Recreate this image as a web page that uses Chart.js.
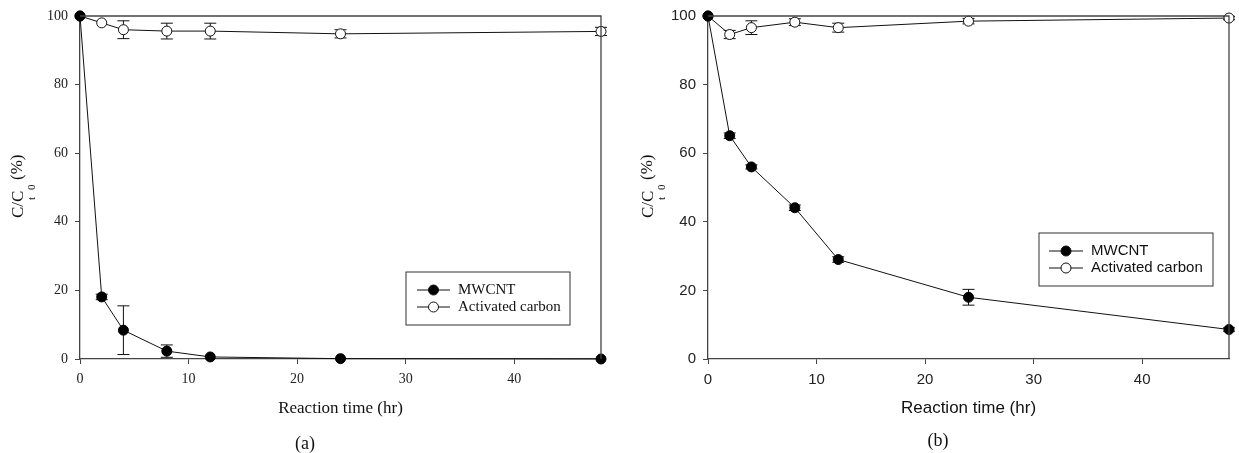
<!DOCTYPE html>
<html>
<head>
<meta charset="utf-8">
<script src="https://cdn.jsdelivr.net/npm/chart.js@4.4.0/dist/chart.umd.min.js"></script>
<style>
    body { margin: 0; background: #fff; }
    #wrap { position: relative; width: 1239px; height: 453px; }
    canvas { position: absolute; top: 0; }
</style>
</head>
<body>
<div id="wrap">
    <canvas id="grafico-a" width="620" height="453" style="left:0"></canvas>
    <canvas id="grafico-b" width="619" height="453" style="left:620px"></canvas>
</div>
<script>
// --- Data ---
const tempo = [0, 2, 4, 8, 12, 24, 48];
const xTicks = [0, 10, 20, 30, 40];
const yTicks = [0, 20, 40, 60, 80, 100];
const nomes = ['MWCNT', 'Activated carbon'];

// panel (a)
const mwcntA = [100, 18.1, 8.4, 2.3, 0.6, 0.1, 0];
const mwcntErrA = [0, 0.8, 7.1, 1.8, 0, 0, 0];
const carvaoA = [100, 98.0, 96.0, 95.6, 95.6, 94.8, 95.5];
const carvaoErrA = [0, 0, 2.6, 2.3, 2.3, 1.2, 1.2];

// panel (b)
const mwcntB = [100, 65.1, 56.0, 44.1, 29.0, 18.0, 8.6];
const mwcntErrB = [0, 0.8, 0.6, 0.8, 0.8, 2.3, 0.5];
const carvaoB = [100, 94.6, 96.6, 98.2, 96.6, 98.5, 99.4];
const carvaoErrB = [0, 1.2, 2.0, 1.0, 1.3, 0.8, 0.5];

const SERIF = '"Liberation Serif", "DejaVu Serif", serif';
const SANS = '"Liberation Sans", Arial, sans-serif';

// --- Helpers ---
function pontos(ys) {
    return tempo.map((t, i) => ({ x: t, y: ys[i] }));
}

function desenharTituloY(ctx, x, yBase) {
    ctx.save();
    ctx.translate(x, yBase);
    ctx.rotate(-Math.PI / 2);
    ctx.fillStyle = '#111';
    ctx.textAlign = 'left';
    ctx.textBaseline = 'middle';
    ctx.font = `17px ${SERIF}`;
    ctx.fillText('C/C', 0, 0);
    ctx.fillText('(%)', 38, -1);
    ctx.font = `11px ${SERIF}`;
    ctx.fillText('t', 18, 13);
    ctx.fillText('0', 28, 13);
    ctx.restore();
}

function criarPainel(id, cfg) {
    const ctx = document.getElementById(id).getContext('2d');

    const plugin = {
        id: 'extras' + id,
        beforeDatasetsDraw(chart) {
            // error bars under the markers
            const c = chart.ctx;
            const xs = chart.scales.x, ys = chart.scales.y;
            c.save();
            c.strokeStyle = '#111';
            c.lineWidth = 1;
            [cfg.erroMwcnt, cfg.erroCarvao].forEach((erros, k) => {
                const valores = k === 0 ? cfg.mwcnt : cfg.carvao;
                erros.forEach((e, i) => {
                    if (!e) return;
                    const px = xs.getPixelForValue(tempo[i]);
                    const top = ys.getPixelForValue(valores[i] + e);
                    const bot = ys.getPixelForValue(valores[i] - e);
                    c.beginPath();
                    c.moveTo(px, top); c.lineTo(px, bot);
                    c.moveTo(px - 6, top); c.lineTo(px + 6, top);
                    c.moveTo(px - 6, bot); c.lineTo(px + 6, bot);
                    c.stroke();
                });
            });
            c.restore();
        },
        afterDraw(chart) {
            const c = chart.ctx;
            const a = chart.chartArea;
            c.save();
            // top and right frame
            c.strokeStyle = '#444';
            c.lineWidth = 1.3;
            c.beginPath();
            c.moveTo(a.left, a.top); c.lineTo(a.right, a.top); c.lineTo(a.right, a.bottom);
            c.stroke();

            // legend box
            const L = cfg.legenda;
            c.lineWidth = 1;
            c.strokeStyle = '#333';
            c.strokeRect(L.x, L.y, L.w, L.h);
            c.font = `15px ${cfg.fonte}`;
            c.textBaseline = 'middle';
            c.textAlign = 'left';
            nomes.forEach((nome, k) => {
                const yy = L.linhas[k];
                c.strokeStyle = '#111';
                c.beginPath();
                c.moveTo(L.x1, yy); c.lineTo(L.x2, yy);
                c.stroke();
                c.beginPath();
                c.arc((L.x1 + L.x2) / 2, yy, 5, 0, Math.PI * 2);
                c.fillStyle = k === 0 ? '#000' : '#fff';
                c.fill();
                c.stroke();
                c.fillStyle = '#111';
                c.fillText(nome, L.xt, yy);
            });

            desenharTituloY(c, cfg.tituloY.x, cfg.tituloY.y);

            // caption
            c.font = `18px ${SERIF}`;
            c.textAlign = 'center';
            c.fillStyle = '#111';
            c.fillText(cfg.legendaPainel, cfg.posLegendaPainel.x, cfg.posLegendaPainel.y);
            c.restore();
        }
    };

    const estiloEixo = {
        grid: { display: true, drawOnChartArea: false, drawTicks: true, tickLength: 5, color: '#444' },
        border: { display: true, color: '#444', width: 1.3 },
    };

    return new Chart(ctx, {
        type: 'scatter',
        data: {
            datasets: [
                {
                    label: nomes[0], data: pontos(cfg.mwcnt), showLine: true,
                    borderColor: '#111', borderWidth: 1, pointRadius: 5,
                    pointBackgroundColor: '#000', pointBorderColor: '#000', pointBorderWidth: 1, clip: false
                },
                {
                    label: nomes[1], data: pontos(cfg.carvao), showLine: true,
                    borderColor: '#111', borderWidth: 1, pointRadius: 5,
                    pointBackgroundColor: '#fff', pointBorderColor: '#111', pointBorderWidth: 1, clip: false
                }
            ]
        },
        options: {
            responsive: false,
            animation: false,
            layout: { padding: cfg.padding },
            plugins: { legend: { display: false }, tooltip: { enabled: false } },
            scales: {
                x: {
                    ...estiloEixo,
                    type: 'linear', min: 0, max: 48,
                    afterBuildTicks: s => { s.ticks = xTicks.map(v => ({ value: v })); },
                    afterFit: s => { s.height = cfg.alturaX; },
                    ticks: { color: '#222', font: { family: cfg.fonte, size: cfg.tamTick }, padding: 7, maxRotation: 0 },
                    title: {
                        display: true, text: 'Reaction time (hr)', color: '#111',
                        font: { family: cfg.fonte, size: 17 }, padding: { top: 0, bottom: 34 }
                    }
                },
                y: {
                    ...estiloEixo,
                    type: 'linear', min: 0, max: 100,
                    afterBuildTicks: s => { s.ticks = yTicks.map(v => ({ value: v })); },
                    afterFit: s => { s.width = cfg.larguraY; },
                    ticks: { color: '#222', font: { family: cfg.fonte, size: cfg.tamTick }, padding: 7 }
                }
            }
        },
        plugins: [plugin]
    });
}

// --- Panels ---
criarPainel('grafico-a', {
    mwcnt: mwcntA, erroMwcnt: mwcntErrA, carvao: carvaoA, erroCarvao: carvaoErrA,
    fonte: SERIF, tamTick: 14,
    padding: { top: 16, right: 19, left: 0, bottom: 0 },
    larguraY: 80, alturaX: 94,
    legenda: { x: 406, y: 272, w: 164, h: 53, x1: 417, x2: 450, xt: 458, linhas: [290, 307] },
    tituloY: { x: 19, y: 218 },
    legendaPainel: '(a)', posLegendaPainel: { x: 305, y: 444 }
});

criarPainel('grafico-b', {
    mwcnt: mwcntB, erroMwcnt: mwcntErrB, carvao: carvaoB, erroCarvao: carvaoErrB,
    fonte: SANS, tamTick: 15,
    padding: { top: 14, right: 10, left: 0, bottom: 0 },
    larguraY: 88, alturaX: 94,
    legenda: { x: 419, y: 233, w: 174, h: 53, x1: 429, x2: 463, xt: 471, linhas: [251, 268] },
    tituloY: { x: 29, y: 218 },
    legendaPainel: '(b)', posLegendaPainel: { x: 318, y: 441 }
});
</script>
</body>
</html>
